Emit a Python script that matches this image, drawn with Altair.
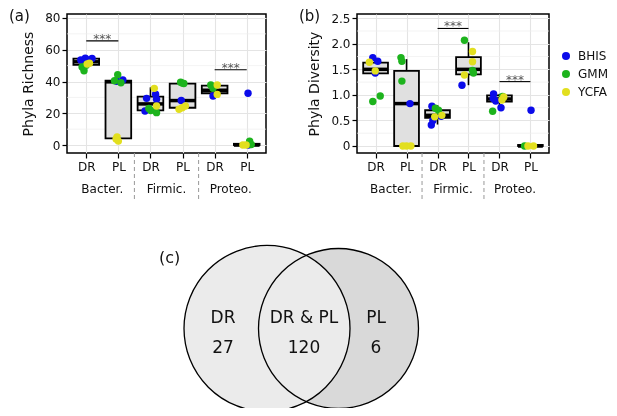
import altair as alt
import pandas as pd

# ---------------- data ----------------
groups = ["Bacter.", "Firmic.", "Proteo."]
group_pos = [1.5, 3.5, 5.5]
sep_pos = [2.5, 4.5]
conditions = ["DR", "PL", "DR", "PL", "DR", "PL"]
box_pos = [1, 2, 3, 4, 5, 6]
media = ["BHIS", "GMM", "YCFA"]
media_colors = ["#0b0bea", "#1db31d", "#e2df1f"]

# (a) Phyla richness: individual samples
rich_box = [1, 1, 1, 1, 1, 1, 1, 1, 1,
            2, 2, 2, 2, 2, 2, 2, 2,
            3, 3, 3, 3, 3, 3, 3, 3, 3,
            4, 4, 4, 4, 4, 4, 4,
            5, 5, 5, 5, 5,
            6, 6, 6, 6, 6, 6]
rich_medium = ["BHIS", "BHIS", "BHIS", "BHIS", "GMM", "GMM", "GMM", "YCFA", "YCFA",
               "BHIS", "BHIS", "GMM", "GMM", "GMM", "YCFA", "YCFA", "YCFA",
               "BHIS", "BHIS", "BHIS", "BHIS", "GMM", "GMM", "GMM", "YCFA", "YCFA",
               "BHIS", "GMM", "GMM", "GMM", "YCFA", "YCFA", "YCFA",
               "BHIS", "GMM", "GMM", "YCFA", "YCFA",
               "BHIS", "BHIS", "GMM", "GMM", "YCFA", "YCFA"]
rich_value = [53.6, 54.6, 54.5, 53.5, 46.8, 49.2, 50.3, 51.0, 51.5,
              41.0, 40.2, 44.3, 40.5, 39.2, 5.1, 2.5, 3.8,
              29.4, 32.0, 21.4, 28.8, 21.8, 20.4, 23.0, 35.7, 24.6,
              28.1, 39.6, 39.0, 38.8, 22.5, 23.5, 24.6,
              30.9, 37.8, 35.7, 37.8, 31.9,
              32.6, 0.0, 2.5, 0.3, 0.0, 0.0]
rich_jitter = [-0.17, -0.03, 0.18, 0.10, -0.07, -0.13, 0.00, 0.03, 0.10,
               0.14, -0.05, -0.02, -0.12, 0.08, -0.04, 0.00, -0.07,
               -0.12, 0.16, -0.17, 0.19, 0.01, 0.19, -0.05, 0.12, 0.19,
               -0.04, -0.06, -0.01, 0.04, -0.11, -0.01, 0.09,
               -0.05, -0.12, -0.05, 0.08, 0.08,
               0.04, 0.05, 0.09, 0.14, -0.12, -0.02]
# (a) box statistics
rich_lo = [48.0, 3.0, 20.5, 22.5, 31.0, 0.0]
rich_q1 = [50.5, 4.2, 21.8, 23.5, 32.6, 0.0]
rich_med = [52.4, 39.8, 25.9, 28.0, 34.5, 0.0]
rich_q3 = [54.4, 40.5, 30.5, 38.7, 37.4, 0.8]
rich_hi = [54.6, 44.0, 36.3, 39.5, 38.0, 2.5]
# (a) significance
rich_sig_x1 = [1, 5]
rich_sig_x2 = [2, 6]
rich_sig_y = [65.6, 47.4]

# (b) Phyla diversity: individual samples
div_box = [1, 1, 1, 1, 1, 1, 1,
           2, 2, 2, 2, 2, 2, 2,
           3, 3, 3, 3, 3, 3, 3, 3,
           4, 4, 4, 4, 4, 4, 4,
           5, 5, 5, 5, 5, 5, 5, 5,
           6, 6, 6, 6]
div_medium = ["BHIS", "BHIS", "BHIS", "GMM", "GMM", "YCFA", "YCFA",
              "BHIS", "GMM", "GMM", "GMM", "YCFA", "YCFA", "YCFA",
              "BHIS", "BHIS", "BHIS", "BHIS", "GMM", "GMM", "YCFA", "YCFA",
              "BHIS", "GMM", "GMM", "GMM", "YCFA", "YCFA", "YCFA",
              "BHIS", "BHIS", "BHIS", "BHIS", "GMM", "GMM", "YCFA", "YCFA",
              "BHIS", "GMM", "YCFA", "YCFA"]
div_value = [1.73, 1.66, 1.43, 0.87, 0.98, 1.64, 1.47,
             0.83, 1.73, 1.66, 1.27, 0.0, 0.0, 0.0,
             0.78, 0.41, 0.50, 0.58, 0.74, 0.70, 0.57, 0.60,
             1.19, 2.07, 1.48, 1.43, 1.85, 1.65, 1.39,
             1.02, 0.93, 0.88, 0.75, 0.68, 0.97, 0.96, 0.90,
             0.70, 0.0, 0.0, 0.0]
div_jitter = [-0.09, 0.07, -0.01, -0.09, 0.15, -0.20, -0.01,
              0.11, -0.18, -0.15, -0.15, -0.12, 0.00, 0.14,
              -0.18, -0.20, -0.15, 0.12, -0.07, 0.03, -0.09, 0.14,
              -0.21, -0.13, 0.13, 0.16, 0.13, 0.13, -0.13,
              -0.19, -0.20, -0.12, 0.05, -0.22, 0.10, 0.14, 0.08,
              0.02, -0.19, -0.08, 0.10]
# (b) box statistics
div_lo = [1.42, 0.0, 0.42, 1.19, 0.75, 0.0]
div_q1 = [1.42, 0.0, 0.55, 1.40, 0.87, 0.0]
div_med = [1.50, 0.83, 0.60, 1.50, 0.92, 0.0]
div_q3 = [1.63, 1.47, 0.70, 1.74, 0.99, 0.02]
div_hi = [1.72, 1.70, 0.80, 2.03, 1.02, 0.0]
# (b) significance
div_sig_x1 = [3, 5]
div_sig_x2 = [4, 6]
div_sig_y = [2.30, 1.26]

# (c) Venn diagram
venn_sets = ["DR", "PL"]
venn_regions = ["DR", "DR & PL", "PL"]
venn_counts = [27, 120, 6]

# ---------------- layout / style ----------------
FONT = "DejaVu Sans"
TXT = "#111111"
H = 139
VENN_W, VENN_H = 360, 204
VENN_CIRCLES = {"cx": [200, 271.5], "cy": [124.5, 124.5], "r": [83, 80]}
VENN_TEXT = {"x": [156, 237, 309], "y_name": 113.5, "y_count": 143.5}

color_enc = alt.Color(
    "medium:N",
    scale=alt.Scale(domain=media, range=media_colors),
    legend=alt.Legend(orient="none", legendX=493, legendY=36, title=None,
                      labelFontSize=12, labelColor=TXT, symbolSize=64,
                      symbolType="circle", symbolOpacity=1, symbolStrokeWidth=0,
                      rowPadding=6, padding=0, labelOffset=6),
)


def panel(pts, box, sig, ydomain, yticks, yminor, ytitle, ylabel_expr, width, tag):
    xs = alt.Scale(domain=[0.4, 6.6], nice=False, zero=False)
    ys = alt.Scale(domain=ydomain, nice=False, zero=False)
    cond_js = "[" + ",".join("'%s'" % c for c in conditions) + "]"
    xaxis = alt.Axis(values=box_pos, labelExpr=cond_js + "[datum.value - 1]",
                     title=None, grid=True, gridColor="#e4e4e4", gridWidth=1.1,
                     domain=False, tickColor="black", tickSize=5, tickWidth=1.2,
                     labelFontSize=12, labelColor=TXT, labelPadding=3,
                     labelFlush=False)
    yaxis = alt.Axis(values=yticks, labelExpr=ylabel_expr, title=ytitle,
                     titleFontSize=14, titleFontWeight="normal", titleColor=TXT,
                     titlePadding=9, grid=True, gridColor="#e4e4e4", gridWidth=1.1,
                     domain=False, tickColor="black", tickSize=5, tickWidth=1.2,
                     labelFontSize=12, labelColor=TXT, labelPadding=2,
                     labelFlush=False)

    def X(f):
        return alt.X(f, type="quantitative", scale=xs, axis=xaxis)

    def Y(f):
        return alt.Y(f, type="quantitative", scale=ys, axis=yaxis)

    minor = alt.Chart(pd.DataFrame({"v": yminor})).mark_rule(
        color="#eeeeee", strokeWidth=0.7).encode(y=Y("v"))
    whisk_hi = alt.Chart(box).mark_rule(color="black", strokeWidth=1.6).encode(
        x=X("pos"), y=Y("q3"), y2="hi")
    whisk_lo = alt.Chart(box).mark_rule(color="black", strokeWidth=1.6).encode(
        x=X("pos"), y=Y("lo"), y2="q1")
    rect = alt.Chart(box).transform_calculate(
        xl="datum.pos - 0.4", xr="datum.pos + 0.4").mark_rect(
        fill="#e0e0e0", stroke="black", strokeWidth=1.8).encode(
        x=X("xl"), x2="xr", y=Y("q1"), y2="q3")
    median = alt.Chart(box).transform_calculate(
        xl="datum.pos - 0.4", xr="datum.pos + 0.4").mark_rule(
        color="black", strokeWidth=3.5).encode(x=X("xl"), x2="xr", y=Y("med"))
    points = alt.Chart(pts).transform_calculate(
        xj="datum.box + datum.jit").mark_circle(size=55, opacity=1).encode(
        x=X("xj"), y=Y("value"), color=color_enc)
    sig_rule = alt.Chart(sig).mark_rule(color="black", strokeWidth=1.1).encode(
        x=X("x1"), x2="x2", y=Y("y"))
    sig_text = alt.Chart(sig).transform_calculate(
        xm="(datum.x1 + datum.x2) / 2").mark_text(
        text="***", fontSize=12, color="#555555", dy=2,
        baseline="alphabetic").encode(x=X("xm"), y=Y("y"))
    glab = alt.Chart(pd.DataFrame({"g": groups, "p": group_pos})).mark_text(
        fontSize=12, color=TXT, baseline="middle").encode(
        x=X("p"), y=alt.value(H + 36), text="g:N")
    seps = alt.Chart(pd.DataFrame({"p": sep_pos})).mark_rule(
        color="#999999", strokeDash=[4, 3], strokeWidth=1).encode(
        x=X("p"), y=alt.value(H), y2=alt.value(H + 48))
    tagc = alt.Chart(pd.DataFrame({"t": [tag]})).mark_text(
        align="left", baseline="top", fontSize=15, color=TXT).encode(
        x=alt.value(-58), y=alt.value(-5), text="t:N")
    return alt.layer(minor, whisk_hi, whisk_lo, rect, median, points,
                     sig_rule, sig_text, glab, seps, tagc).properties(
        width=width, height=H)


rich_pts = pd.DataFrame({"box": rich_box, "medium": rich_medium,
                         "value": rich_value, "jit": rich_jitter})
rich_boxdf = pd.DataFrame({"pos": box_pos, "lo": rich_lo, "q1": rich_q1,
                           "med": rich_med, "q3": rich_q3, "hi": rich_hi})
rich_sig = pd.DataFrame({"x1": rich_sig_x1, "x2": rich_sig_x2, "y": rich_sig_y})

div_pts = pd.DataFrame({"box": div_box, "medium": div_medium,
                        "value": div_value, "jit": div_jitter})
div_boxdf = pd.DataFrame({"pos": box_pos, "lo": div_lo, "q1": div_q1,
                          "med": div_med, "q3": div_q3, "hi": div_hi})
div_sig = pd.DataFrame({"x1": div_sig_x1, "x2": div_sig_x2, "y": div_sig_y})

panel_a = panel(rich_pts, rich_boxdf, rich_sig, [-5, 82.5], [0, 20, 40, 60, 80],
                [10, 30, 50, 70], "Phyla Richness", "datum.label", 199, "(a)")
panel_b = panel(div_pts, div_boxdf, div_sig, [-0.137, 2.583],
                [0, 0.5, 1.0, 1.5, 2.0, 2.5], [0.25, 0.75, 1.25, 1.75, 2.25],
                "Phyla Diversity",
                "datum.value == 0 ? '0' : format(datum.value, '.1f')", 192, "(b)")

# ---------------- Venn ----------------
vx = alt.Scale(domain=[0, VENN_W], nice=False, zero=False)
vy = alt.Scale(domain=[0, VENN_H], nice=False, zero=False, reverse=True)
circ = pd.DataFrame({"set": venn_sets, **VENN_CIRCLES})


def VX(f):
    return alt.X(f, type="quantitative", scale=vx, axis=None)


def VY(f):
    return alt.Y(f, type="quantitative", scale=vy, axis=None)


circ_base = alt.Chart(circ).transform_calculate(sz="4 * datum.r * datum.r")
right_fill = circ_base.transform_filter("datum.set == 'PL'").mark_point(
    filled=True, shape="circle", color="#d9d9d9", opacity=1, clip=True,
    strokeWidth=0).encode(x=VX("cx"), y=VY("cy"), size=alt.Size("sz:Q", scale=None))
left_fill = circ_base.transform_filter("datum.set == 'DR'").mark_point(
    filled=True, shape="circle", color="#ebebeb", opacity=1, clip=True,
    strokeWidth=0, blend="lighten").encode(
    x=VX("cx"), y=VY("cy"), size=alt.Size("sz:Q", scale=None))
outlines = circ_base.mark_point(
    filled=False, shape="circle", color="black", opacity=1, strokeWidth=1.3,
    clip=True).encode(x=VX("cx"), y=VY("cy"), size=alt.Size("sz:Q", scale=None))

regions = pd.DataFrame({"name": venn_regions, "count": venn_counts,
                        "x": VENN_TEXT["x"]})
names = alt.Chart(regions).mark_text(fontSize=17, color=TXT, baseline="middle").encode(
    x=VX("x"), y=alt.value(VENN_TEXT["y_name"]), text="name:N")
counts = alt.Chart(regions).mark_text(fontSize=17, color=TXT, baseline="middle").encode(
    x=VX("x"), y=alt.value(VENN_TEXT["y_count"]), text="count:N")
tag_c = alt.Chart(pd.DataFrame({"t": ["(c)"]})).mark_text(
    align="left", baseline="middle", fontSize=16, color=TXT).encode(
    x=alt.value(92), y=alt.value(53.5), text="t:N")

venn = alt.layer(right_fill, left_fill, outlines, names, counts, tag_c).properties(
    width=VENN_W, height=VENN_H, view=alt.ViewBackground(stroke="transparent"))

chart = alt.vconcat(
    alt.hconcat(panel_a, panel_b, spacing=30),
    venn,
    spacing=0,
).properties(padding=0).configure(font=FONT).configure_view(
    stroke="black", strokeWidth=1.5)

chart.save("out.html", embed_options={"renderer": "svg", "actions": False})
